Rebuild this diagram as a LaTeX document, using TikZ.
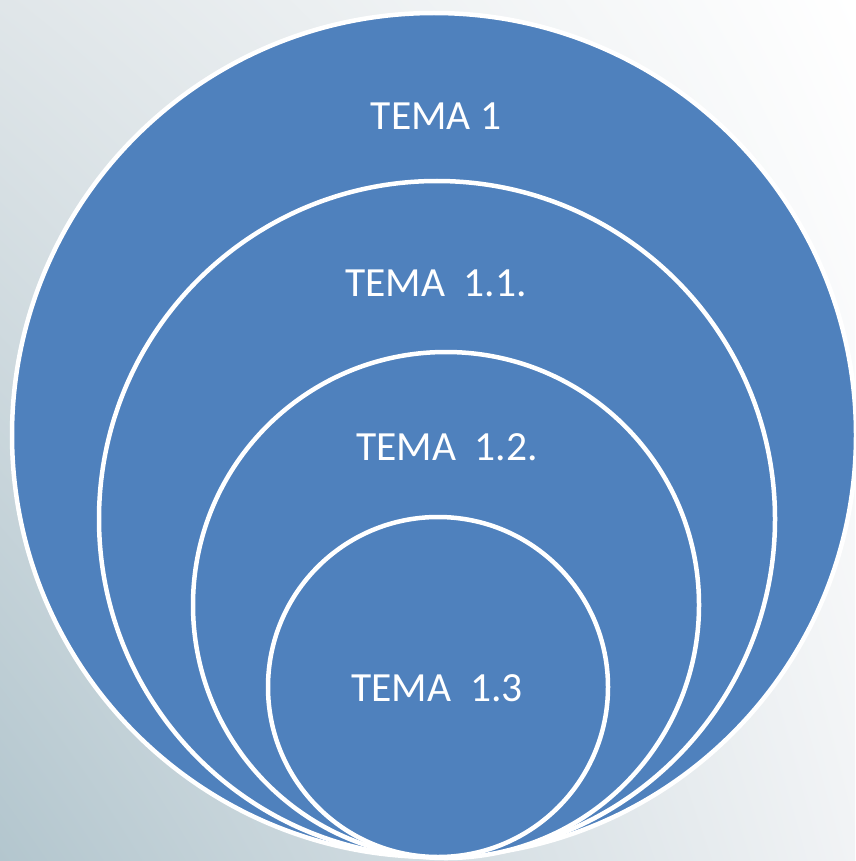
\documentclass[tikz,border=0pt]{standalone}
\usepackage{fontspec}
\setmainfont{Carlito}
\usetikzlibrary{shadings}
\definecolor{ringblue}{HTML}{4F81BD}
\definecolor{bgdark}{HTML}{B3C6CE}
\definecolor{bgmid}{HTML}{E0E6E9}
\definecolor{bglight}{HTML}{F1F3F5}

\begin{document}
\begin{tikzpicture}[
	x=1pt, y=-1pt,
	ring/.style={circle, draw=white, fill=ringblue, line width=4.5pt, inner sep=0pt
	},
	topic/.style={text=white, font=\fontsize{41.5}{50}\selectfont
	}]
\useasboundingbox (0,0) rectangle (855,861);
\shade[upper left=bgmid, upper right=white, lower left=bgdark, lower right=bglight] (0,0) rectangle (855,861);

\node[ring, minimum size=844pt] (t1) at (434,435) {};
\node[ring, minimum size=676pt] (t11) at (437,519) {};
\node[ring, minimum size=506pt] (t12) at (446,605) {};
\node[ring, minimum size=340pt] (t13) at (438,687) {};

\node[topic] (l1) at (436,116) {TEMA 1};
\node[topic] (l11) at (436,283) {TEMA~~1.1.};
\node[topic] (l12) at (447,447) {TEMA~~1.2.};
\node[topic] (l13) at (437,688) {TEMA~~1.3};
\end{tikzpicture}
\end{document}
